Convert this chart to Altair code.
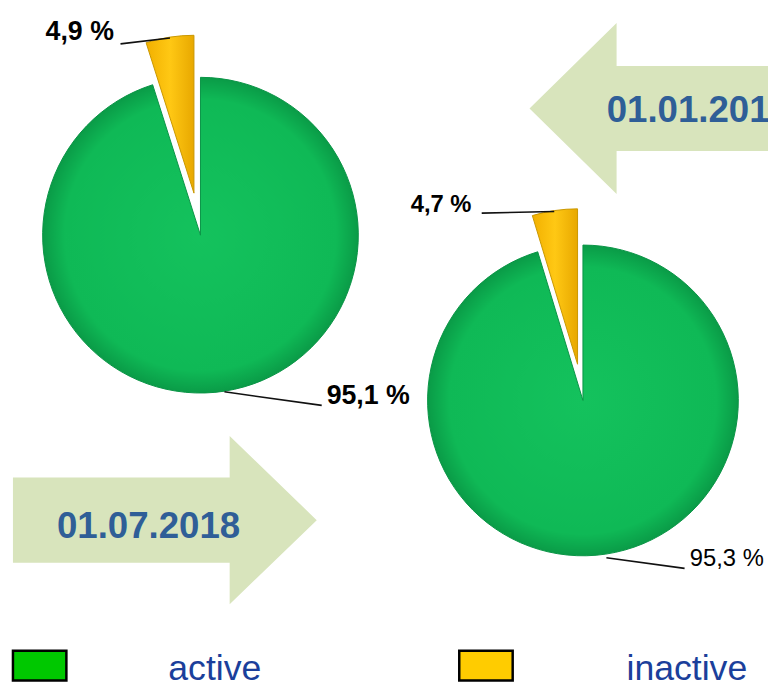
import math
import altair as alt
import pandas as pd

# ---------------- data ----------------
dates = ["01.01.2018", "01.07.2018"]
statuses = ["active", "inactive"]
active_share = [95.1, 95.3]
inactive_share = [4.9, 4.7]
legend_labels = ["active", "inactive"]

rows = []
for d, a, i in zip(dates, active_share, inactive_share):
    rows.append({"date": d, "status": statuses[0], "order": 0, "value": a})
    rows.append({"date": d, "status": statuses[1], "order": 1, "value": i})
df = pd.DataFrame(rows)

# ---------------- layout / style ----------------
OFF = 8           # page margin
W, H = 768, 678
FONT = "Liberation Sans"

def px(v):
    return v - OFF

GREEN_FILL = alt.Gradient(
    gradient="radial",
    stops=[alt.GradientStop(color="#14C25D", offset=0),
           alt.GradientStop(color="#0FB956", offset=0.86),
           alt.GradientStop(color="#0A9B47", offset=1)],
    x1=0.5, y1=0.5, r1=0, x2=0.5, y2=0.5, r2=0.5)
YELLOW_FILL = alt.Gradient(
    gradient="linear",
    stops=[alt.GradientStop(color="#F2B000", offset=0),
           alt.GradientStop(color="#FFC814", offset=0.5),
           alt.GradientStop(color="#E8A800", offset=1)],
    x1=0, y1=0, x2=1, y2=0)

pie_layout = {
    "01.01.2018": dict(cx=202.5, cy=234, r=159.5, explode=43,
                       small=(46, 37, 27, "bold"), big=(330, 405, 27, "bold"),
                       small_line=(121.7, 40.7, 171.7, 34.7),
                       big_line=(226.7, 392.3, 325, 406)),
    "01.07.2018": dict(cx=589, cy=401, r=157, explode=37,
                       small=(415, 211, 24, "bold"), big=(697, 568, 24, "normal"),
                       small_line=(486.7, 211.7, 560, 210),
                       big_line=(612.7, 560, 691.7, 570.7)),
}

theta_scale = alt.Scale(domain=[0, 100], range=[0, 2 * math.pi])
one = alt.Data(values=[{}])

layers = []

# ---------------- arrows ----------------
ARROW_COLOR = "#D8E4BC"
arrow_left = ("M 1.325 -0.43 L -0.445 -0.43 L -0.445 -0.865 L -1.325 0 "
              "L -0.445 0.865 L -0.445 0.43 L 1.325 0.43 Z")
arrow_right = ("M -1.535 -0.43 L 0.655 -0.43 L 0.655 -0.85 L 1.535 0 "
               "L 0.655 0.85 L 0.655 0.43 L -1.535 0.43 Z")
layers.append(alt.Chart(one).mark_point(shape=arrow_left, size=40000, filled=True,
                                         fill=ARROW_COLOR, opacity=1, strokeWidth=0)
              .encode(x=alt.value(px(667.5)), y=alt.value(px(106))))
layers.append(alt.Chart(one).mark_point(shape=arrow_right, size=40000, filled=True,
                                         fill=ARROW_COLOR, opacity=1, strokeWidth=0)
              .encode(x=alt.value(px(166.5)), y=alt.value(px(522))))

date_df = pd.DataFrame({"date": dates})
layers.append(alt.Chart(date_df).transform_filter(alt.datum.date == dates[0])
              .mark_text(font=FONT, fontSize=37, fontWeight="bold", color="#2F5E97",
                         align="left", baseline="alphabetic")
              .encode(text="date:N", x=alt.value(px(613)), y=alt.value(px(120))))
layers.append(alt.Chart(date_df).transform_filter(alt.datum.date == dates[1])
              .mark_text(font=FONT, fontSize=37, fontWeight="bold", color="#2F5E97",
                         align="center", baseline="alphabetic")
              .encode(text="date:N", x=alt.value(px(150)), y=alt.value(px(540))))

# ---------------- pies ----------------
for d, a, i in zip(dates, active_share, inactive_share):
    L = pie_layout[d]
    base = (alt.Chart(df)
            .transform_filter(alt.datum.date == d)
            .transform_stack(stack="value", groupby=["date"], as_=["t0", "t1"],
                             sort=[alt.SortField("order")]))
    mid = (a + i / 2) / 100 * 2 * math.pi
    dx = L["explode"] * math.sin(mid)
    dy = -L["explode"] * math.cos(mid)

    layers.append(base.transform_filter(alt.datum.status == statuses[0])
                  .mark_arc(radius=L["r"], fill=GREEN_FILL, stroke="#0A9446", strokeWidth=1)
                  .encode(theta=alt.Theta("t0:Q", scale=theta_scale), theta2="t1:Q",
                          x=alt.value(px(L["cx"])), y=alt.value(px(L["cy"]))))
    layers.append(base.transform_filter(alt.datum.status == statuses[1])
                  .mark_arc(radius=L["r"], fill=YELLOW_FILL, stroke="#C99700", strokeWidth=1)
                  .encode(theta=alt.Theta("t0:Q", scale=theta_scale), theta2="t1:Q",
                          x=alt.value(px(L["cx"] + dx)), y=alt.value(px(L["cy"] + dy))))

    # leader lines
    for key in ("small_line", "big_line"):
        x1, y1, x2, y2 = L[key]
        layers.append(alt.Chart(one).mark_rule(color="#111111", strokeWidth=1.6)
                      .encode(x=alt.value(px(x1)), y=alt.value(px(y1)),
                              x2=alt.value(px(x2)), y2=alt.value(px(y2))))

    # labels
    for status, key in ((statuses[1], "small"), (statuses[0], "big")):
        lx, ly, fs, fw = L[key]
        layers.append(base.transform_filter(alt.datum.status == status)
                      .transform_calculate(label="replace(format(datum.value, '.1f'), '.', ',') + ' %'")
                      .mark_text(font=FONT, fontSize=fs, fontWeight=fw, color="#000000",
                                 align="left", baseline="alphabetic")
                      .encode(text="label:N", x=alt.value(px(lx)), y=alt.value(px(ly))))

# ---------------- legend ----------------
legend_df = pd.DataFrame({"label": legend_labels})
legend_swatch = ["#00C800", "#FFCC00"]
legend_box = [(13, 67), (464, 518)]
legend_text_x = [170, 633]
for lab, col, (bx1, bx2), tx in zip(legend_labels, legend_swatch, legend_box, legend_text_x):
    sub = alt.Chart(legend_df).transform_filter(alt.datum.label == lab)
    layers.append(sub.mark_rect(fill=col, stroke="#000000", strokeWidth=2.5)
                  .encode(x=alt.value(px(bx1)), x2=alt.value(px(bx2)),
                          y=alt.value(px(654)), y2=alt.value(px(684))))
    layers.append(sub.mark_text(font=FONT, fontSize=36, color="#1B3F9B",
                                align="left", baseline="alphabetic")
                  .encode(text="label:N", x=alt.value(px(tx)), y=alt.value(px(684))))

chart = (alt.layer(*layers)
         .properties(width=W, height=H, autosize=alt.AutoSizeParams(type="none"),
                     padding=0, background="white")
         .configure_view(stroke=None))

chart.save("out.html", embed_options={"renderer": "svg", "actions": False})
